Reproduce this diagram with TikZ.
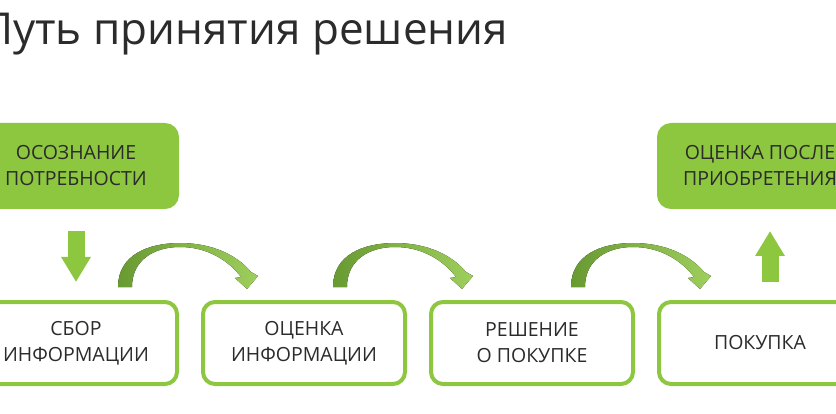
\documentclass[tikz,border=0pt]{standalone}
\usepackage{fontspec}
\setmainfont{Open Sans}
\usepackage{tikz}
\usetikzlibrary{arrows.meta,positioning,calc}
\definecolor{leafgreen}{HTML}{8DC63F}
\definecolor{mossgreen}{HTML}{689A32}
\definecolor{inkgray}{HTML}{2B2B2B}
\tikzset{
  stage/.style={draw=leafgreen, line width=4pt, rounded corners=12pt,
                minimum width=202pt, minimum height=82pt, align=center,
                text=inkgray, font=\fontsize{19.5}{26}\selectfont},
  milestone/.style={stage, fill=leafgreen},
  blockarrow/.style={draw=leafgreen, line width=17pt,
                     -{Triangle[length=25pt,width=28pt,fill=leafgreen]}},
  bendfill/.style={left color=mossgreen, right color=leafgreen!85!white}
}
\newcommand{\bendarrow}[1]{%
  \fill[bendfill, shift={#1}]
    (42,13) .. controls (42,45) and (72,57) .. (104,57)
            .. controls (136,57) and (161,45) .. (175,28)
    -- (182,24) -- (171,11) -- (159,22) -- (165,23)
            .. controls (152,40) and (131,53) .. (104,53)
            .. controls (78,53) and (56,40) .. (56,13) -- cycle;}

\begin{document}
\begin{tikzpicture}[x=1pt, y=1pt, node distance=91pt and 22pt]
  \clip (0,0) rectangle (836,413);
  \node[anchor=base west, inner sep=0, text=inkgray,
        font=\fontsize{44}{52}\selectfont] (title) at (-19,368)
    {Путь принятия решения};

  \node[stage] (gather) at (76,70) {СБОР\\ИНФОРМАЦИИ};
  \node[stage, right=of gather] (weigh) {ОЦЕНКА\\ИНФОРМАЦИИ};
  \node[stage, right=of weigh] (decide) {РЕШЕНИЕ\\О ПОКУПКЕ};
  \node[stage, right=of decide] (buy) {ПОКУПКА};
  \node[milestone, above=of gather] (need) {ОСОЗНАНИЕ\\ПОТРЕБНОСТИ};
  \node[milestone, above=of buy] (after) {ОЦЕНКА ПОСЛЕ\\ПРИОБРЕТЕНИЯ};

  \draw[blockarrow] ([yshift=-22pt]need.south) -- ([yshift=18pt]gather.north);
  \draw[blockarrow] ([xshift=10pt,yshift=18pt]buy.north)
    -- ([xshift=10pt,yshift=-22pt]after.south);

  \bendarrow{(gather.north)}
  \bendarrow{([xshift=-13pt]weigh.north)}
  \bendarrow{([xshift=-3pt]decide.north)}
\end{tikzpicture}
\end{document}
